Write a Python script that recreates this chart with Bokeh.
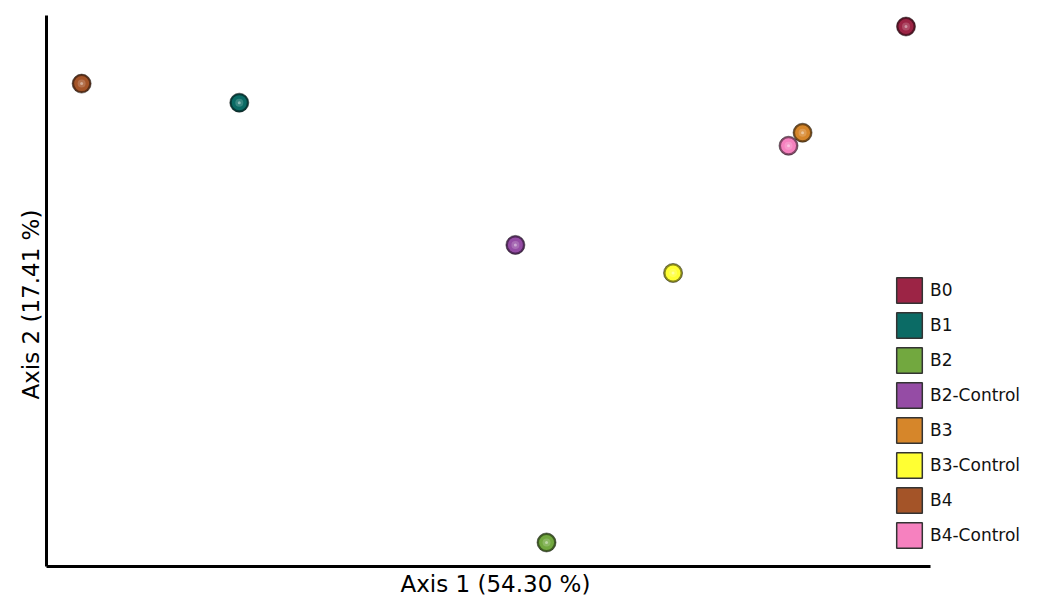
from bokeh.plotting import figure
from bokeh.models import ColumnDataSource, Range1d, FixedTicker, Legend, LegendItem, Title
from bokeh.core.properties import value
from bokeh.embed import file_html
from bokeh.resources import INLINE

# ---- data (PCoA coordinates) ----
groups = ["B0", "B1", "B2", "B2-Control", "B3", "B3-Control", "B4", "B4-Control"]
axis1 = [0.456, -0.208, 0.098, 0.067, 0.353, 0.224, -0.365, 0.339]
axis2 = [0.239, 0.163, -0.276, 0.021, 0.133, -0.007, 0.182, 0.120]
colors = ["#9C2445", "#0B6B65", "#72A83F", "#954CA5", "#D6862A", "#FFFF33", "#A45428", "#F681BF"]
axis1_label = "Axis 1 (54.30 %)"
axis2_label = "Axis 2 (17.41 %)"
x_axis_span = (-0.40, 0.48)
y_axis_span = (-0.30, 0.25)


def mix(hex_color, other, t):
    h = hex_color.lstrip("#")
    r, g, b = int(h[0:2], 16), int(h[2:4], 16), int(h[4:6], 16)
    o = other.lstrip("#")
    r2, g2, b2 = int(o[0:2], 16), int(o[2:4], 16), int(o[4:6], 16)
    return "#%02x%02x%02x" % (round(r + (r2 - r) * t), round(g + (g2 - g) * t), round(b + (b2 - b) * t))


source = ColumnDataSource(dict(
    x=axis1, y=axis2, group=groups, color=colors,
    dark=[mix(c, "#000000", 0.45) for c in colors],
    light=[mix(c, "#ffffff", 0.3) for c in colors],
    lighter=[mix(c, "#ffffff", 0.6) for c in colors],
))

FONT = "DejaVu Sans"

p = figure(width=1040, height=599,
           x_range=Range1d(x_axis_span[0], x_axis_span[1] + 0.10), y_range=Range1d(*y_axis_span),
           output_backend="svg", toolbar_location=None,
           min_border_left=46, min_border_right=10, min_border_top=15, min_border_bottom=32)
p.title.visible = False
p.outline_line_color = None
p.background_fill_color = "white"
p.border_fill_color = "white"
p.xgrid.visible = False
p.ygrid.visible = False

for ax in (p.xaxis, p.yaxis):
    ax.ticker = FixedTicker(ticks=[])
    ax.major_tick_out = 0
    ax.major_tick_in = 0
    ax.minor_tick_out = 0
    ax.minor_tick_in = 0
    ax.major_label_standoff = 0
    ax.axis_line_width = 3
    ax.axis_line_color = "black"

p.xaxis.bounds = x_axis_span

# axis titles (placed as side titles so they can be positioned along the drawn axis lines)
xt = Title(text=axis1_label, align="left", offset=354, standoff=5,
           text_font=FONT, text_font_size="23px", text_font_style="normal", text_color="black")
yt = Title(text=axis2_label, align="left", offset=167, standoff=6,
           text_font=FONT, text_font_size="23px", text_font_style="normal", text_color="black")
p.add_layout(xt, "below")
p.add_layout(yt, "left")

# legend swatches: zero-size rects hidden under the spheres
swatch = p.rect("x", "y", source=source, width=0, height=0, fill_color="color",
                line_color="#333333", line_width=1.5)

# shaded spheres
p.scatter("x", "y", source=source, size=19, fill_color="dark", line_color="#1a1a1a", line_alpha=0.5, line_width=1)
p.scatter("x", "y", source=source, size=15, fill_color="color", line_color=None)
p.scatter("x", "y", source=source, size=8, fill_color="light", fill_alpha=0.6, line_color=None)
p.scatter("x", "y", source=source, size=3, fill_color="lighter", fill_alpha=0.8, line_color=None)

items = [LegendItem(label=value(g), renderers=[swatch], index=i) for i, g in enumerate(groups)]
legend = Legend(items=items, location=(847, 15), glyph_width=32, glyph_height=32, spacing=3,
                padding=0, margin=0, label_standoff=5, label_text_font=FONT,
                label_text_color="#111111",
                label_text_font_size="17px", border_line_alpha=0, background_fill_alpha=0)
p.add_layout(legend)

open("out.html", "w").write(file_html(p, INLINE))
